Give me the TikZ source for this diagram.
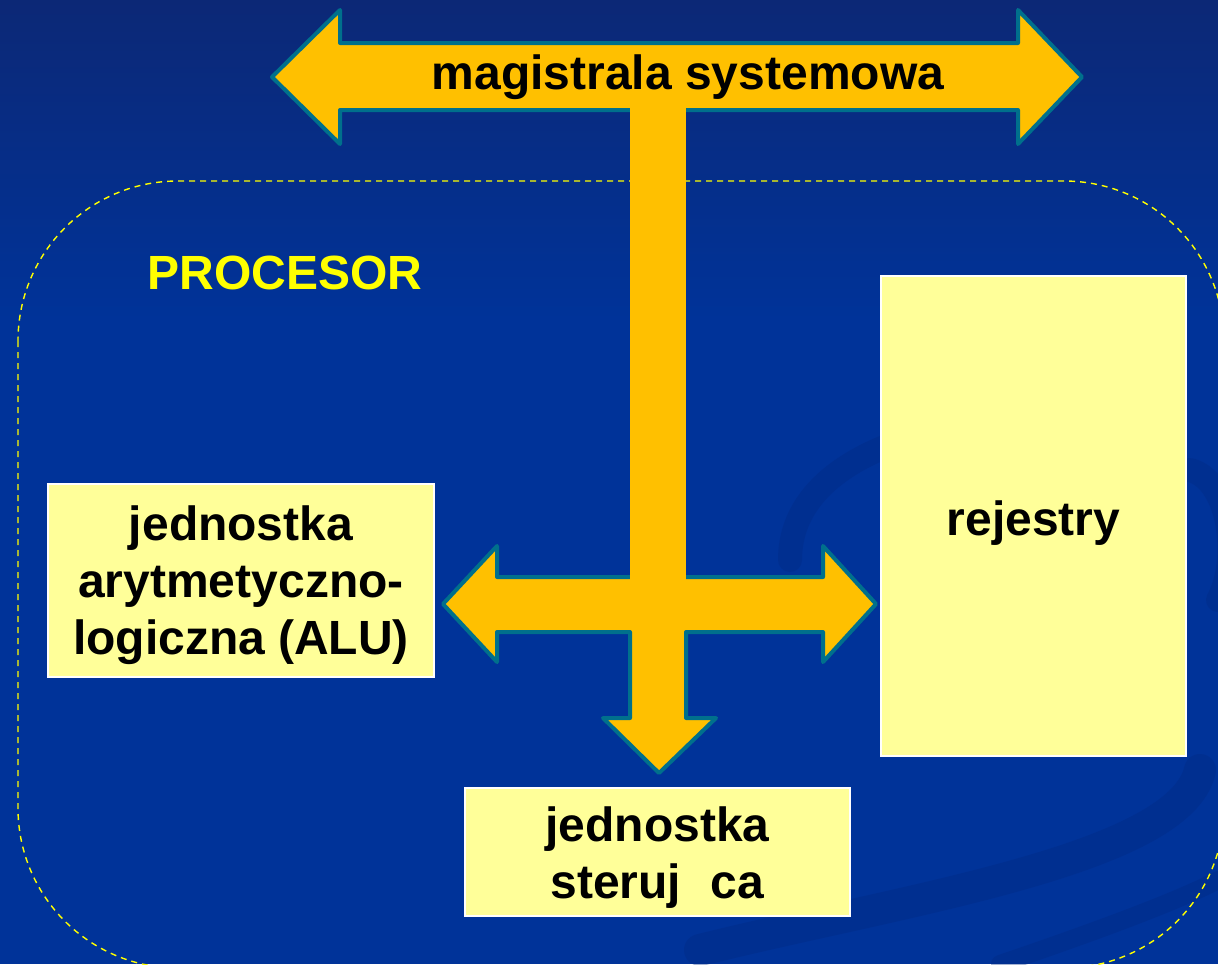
\documentclass[tikz,border=0pt]{standalone}
\usepackage{fontspec}
\setmainfont{Liberation Sans}
\definecolor{bgtop}{RGB}{12,40,118}
\definecolor{bgmain}{RGB}{0,51,153}
\definecolor{swoosh}{RGB}{0,40,128}
\definecolor{busfill}{RGB}{255,192,0}
\definecolor{busedge}{RGB}{0,112,140}
\definecolor{unitfill}{RGB}{255,255,153}
\definecolor{cpuline}{RGB}{255,255,0}
\tikzset{
  unit/.style={draw=white, line width=1pt, fill=unitfill, inner sep=0pt},
  unittext/.style={align=center, inner sep=0pt,
    font=\fontsize{24}{28.5}\selectfont\bfseries, text=black},
  bus/.style={fill=busfill, draw=busedge, line width=2pt, line join=round},
  busbar/.style={fill=busfill, draw=none},
  cpuframe/.style={draw=cpuline, line width=0.7pt, dash pattern=on 3pt off 2.5pt,
    rounded corners=80pt},
  band/.style={draw=swoosh, line cap=round, opacity=0.35}
}
\begin{document}
\begin{tikzpicture}[x=0.5pt,y=-0.5pt]
  \useasboundingbox (0,0) rectangle (1218,964);
  \clip (0,0) rectangle (1218,964);
  % background
  \fill[bgmain] (0,0) rectangle (1218,964);
  \shade[top color=bgtop, bottom color=bgmain] (0,0) rectangle (1218,320);
  % faint background bands
  \draw[band, line width=12pt] (790,560) .. controls (790,470) and (900,430) .. (1000,420);
  \draw[band, line width=12pt] (1190,470) .. controls (1230,480) and (1240,560) .. (1218,600);
  \draw[band, line width=16pt] (700,950) .. controls (900,900) and (1180,860) .. (1200,770);
  \draw[band, line width=9pt] (1000,964) .. controls (1100,930) and (1180,900) .. (1218,880);

  % processor frame
  \draw[cpuframe] (18,181) rectangle (1224,968);
  \node[text=cpuline, font=\fontsize{24}{28}\selectfont\bfseries] (cpu) at (285,273) {PROCESOR};

  % units
  \node[unit, minimum width=193pt, minimum height=96.5pt] (alu) at (241,580.5) {};
  \node[unittext] (alutext) at ([yshift=-2.5pt]alu.center)
    {jednostka\\arytmetyczno-\\logiczna (ALU)};
  \node[unit, minimum width=152.5pt, minimum height=240pt] (reg) at (1033.5,516) {};
  \node[unittext] (regtext) at ([yshift=-3.5pt]reg.center) {rejestry};
  \node[unit, minimum width=192.5pt, minimum height=64pt] (cu) at (657.5,852) {};
  \node[unittext] (cutext) at ([yshift=-3pt]cu.center)
    {jednostka\\steruj\hspace{0.62em}ca};

  % system bus
  \coordinate (busL) at (272,77);
  \coordinate (busR) at (1082,77);
  \draw[bus] (busL) -- (340,10) -- (340,43) -- (1018,43) -- (1018,10) -- (busR)
    -- (1018,144) -- (1018,110) -- (340,110) -- (340,144) -- cycle;
  \node[font=\fontsize{24}{28}\selectfont\bfseries, text=black] (bus) at (688,77) {magistrala systemowa};

  % internal bus: to ALU, to registers, down to control unit
  \coordinate (toalu) at (443,604);
  \coordinate (toreg) at (876,604);
  \coordinate (tocu) at (659,773);
  \draw[bus] (toalu) -- (497,546) -- (497,577) -- (823,577) -- (823,546) -- (toreg)
    -- (823,662) -- (823,632) -- (686,632) -- (686,718) -- (716,718) -- (tocu)
    -- (603,718) -- (630,718) -- (630,632) -- (497,632) -- (497,662) -- cycle;
  % vertical link from the system bus
  \fill[busbar] (630,108) rectangle (686,580);
\end{tikzpicture}
\end{document}
